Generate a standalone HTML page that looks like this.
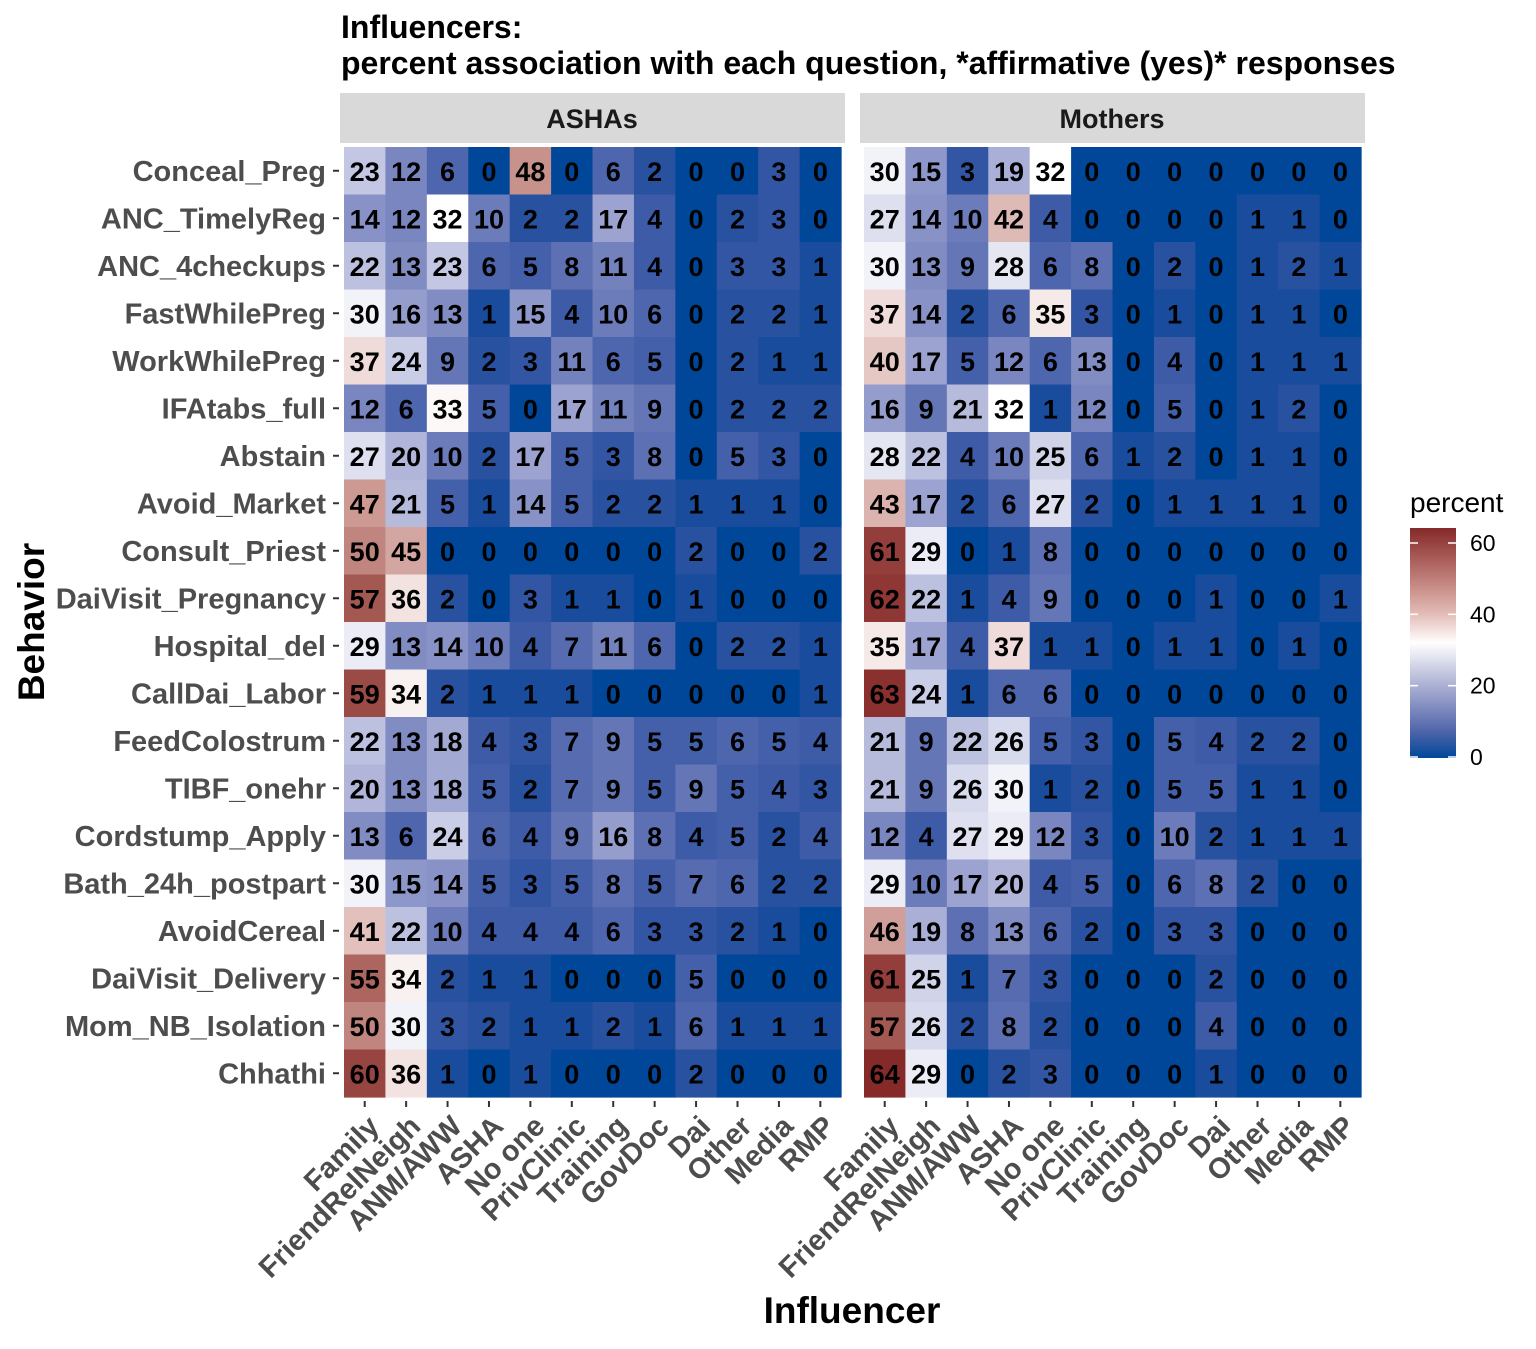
<!DOCTYPE html>
<html><head><meta charset="utf-8"><style>
body{margin:0;background:#fff}
svg text{font-family:"Liberation Sans",Arial,sans-serif;font-weight:bold}
</style></head><body>
<svg id="chart" width="1536" height="1344" xmlns="http://www.w3.org/2000/svg">
<text x="341" y="38" font-size="32" fill="#000">Influencers:</text>
<text x="341" y="74" font-size="32" fill="#000">percent association with each question, *affirmative (yes)* responses</text>
<rect x="340" y="93" width="505" height="50" fill="#d9d9d9"/>
<text x="592" y="128" font-size="27" text-anchor="middle" fill="#1a1a1a">ASHAs</text>
<rect x="860" y="93" width="505" height="50" fill="#d9d9d9"/>
<text x="1112" y="128" font-size="27" text-anchor="middle" fill="#1a1a1a">Mothers</text>
<g id="cells"></g>
<g id="axes"></g>
<text transform="translate(44,622) rotate(-90)" font-size="37" text-anchor="middle" fill="#000">Behavior</text>
<text x="852" y="1323" font-size="37" text-anchor="middle" fill="#000">Influencer</text>
<defs><linearGradient id="lg" x1="0" y1="1" x2="0" y2="0">
<stop offset="0" stop-color="#00479a"/><stop offset="0.125" stop-color="#5468ab"/><stop offset="0.25" stop-color="#8e97c6"/><stop offset="0.375" stop-color="#c6c9e1"/><stop offset="0.5" stop-color="#ffffff"/><stop offset="0.625" stop-color="#e3bdb8"/><stop offset="0.75" stop-color="#c68a84"/><stop offset="0.875" stop-color="#a75955"/><stop offset="1" stop-color="#842a2a"/></linearGradient></defs>
<text x="1410" y="512" font-size="28" style="font-weight:normal" fill="#000">percent</text>
<rect x="1410" y="528" width="46" height="230" fill="url(#lg)"/>
<g id="legend"></g>
</svg>
<script>
const behaviors=["Conceal_Preg","ANC_TimelyReg","ANC_4checkups","FastWhilePreg","WorkWhilePreg","IFAtabs_full","Abstain","Avoid_Market","Consult_Priest","DaiVisit_Pregnancy","Hospital_del","CallDai_Labor","FeedColostrum","TIBF_onehr","Cordstump_Apply","Bath_24h_postpart","AvoidCereal","DaiVisit_Delivery","Mom_NB_Isolation","Chhathi"];
const influencers=["Family","FriendRelNeigh","ANM/AWW","ASHA","No one","PrivClinic","Training","GovDoc","Dai","Other","Media","RMP"];
const ashaValues=[
[23,12,6,0,48,0,6,2,0,0,3,0],
[14,12,32,10,2,2,17,4,0,2,3,0],
[22,13,23,6,5,8,11,4,0,3,3,1],
[30,16,13,1,15,4,10,6,0,2,2,1],
[37,24,9,2,3,11,6,5,0,2,1,1],
[12,6,33,5,0,17,11,9,0,2,2,2],
[27,20,10,2,17,5,3,8,0,5,3,0],
[47,21,5,1,14,5,2,2,1,1,1,0],
[50,45,0,0,0,0,0,0,2,0,0,2],
[57,36,2,0,3,1,1,0,1,0,0,0],
[29,13,14,10,4,7,11,6,0,2,2,1],
[59,34,2,1,1,1,0,0,0,0,0,1],
[22,13,18,4,3,7,9,5,5,6,5,4],
[20,13,18,5,2,7,9,5,9,5,4,3],
[13,6,24,6,4,9,16,8,4,5,2,4],
[30,15,14,5,3,5,8,5,7,6,2,2],
[41,22,10,4,4,4,6,3,3,2,1,0],
[55,34,2,1,1,0,0,0,5,0,0,0],
[50,30,3,2,1,1,2,1,6,1,1,1],
[60,36,1,0,1,0,0,0,2,0,0,0]];
const motherValues=[
[30,15,3,19,32,0,0,0,0,0,0,0],
[27,14,10,42,4,0,0,0,0,1,1,0],
[30,13,9,28,6,8,0,2,0,1,2,1],
[37,14,2,6,35,3,0,1,0,1,1,0],
[40,17,5,12,6,13,0,4,0,1,1,1],
[16,9,21,32,1,12,0,5,0,1,2,0],
[28,22,4,10,25,6,1,2,0,1,1,0],
[43,17,2,6,27,2,0,1,1,1,1,0],
[61,29,0,1,8,0,0,0,0,0,0,0],
[62,22,1,4,9,0,0,0,1,0,0,1],
[35,17,4,37,1,1,0,1,1,0,1,0],
[63,24,1,6,6,0,0,0,0,0,0,0],
[21,9,22,26,5,3,0,5,4,2,2,0],
[21,9,26,30,1,2,0,5,5,1,1,0],
[12,4,27,29,12,3,0,10,2,1,1,1],
[29,10,17,20,4,5,0,6,8,2,0,0],
[46,19,8,13,6,2,0,3,3,0,0,0],
[61,25,1,7,3,0,0,0,2,0,0,0],
[57,26,2,8,2,0,0,0,4,0,0,0],
[64,29,0,2,3,0,0,0,1,0,0,0]];
const legendTicks=[0,20,40,60];

const NS="http://www.w3.org/2000/svg";
const cw=41.42, rh=47.5, top0=147, panelX=[344,864];
const midV=32, maxV=64.2;
function toLin(c){c/=255;return c<=0.04045?c/12.92:Math.pow((c+0.055)/1.055,2.4);}
function fromLin(c){c=c<=0.0031308?12.92*c:1.055*Math.pow(c,1/2.4)-0.055;return Math.max(0,Math.min(255,Math.round(c*255)));}
function rgb2lab(r,g,b){r=toLin(r);g=toLin(g);b=toLin(b);
  let x=(0.4124*r+0.3576*g+0.1805*b)/0.95047,y=0.2126*r+0.7152*g+0.0722*b,z=(0.0193*r+0.1192*g+0.9505*b)/1.08883;
  const f=t=>t>0.008856?Math.cbrt(t):7.787*t+16/116;
  return [116*f(y)-16,500*(f(x)-f(y)),200*(f(y)-f(z))];}
function lab2rgb(L,a,bb){const fy=(L+16)/116,fx=fy+a/500,fz=fy-bb/200;
  const fi=t=>t*t*t>0.008856?t*t*t:(t-16/116)/7.787;
  const x=fi(fx)*0.95047,y=fi(fy),z=fi(fz)*1.08883;
  return [fromLin(3.2406*x-1.5372*y-0.4986*z),fromLin(-0.9689*x+1.8758*y+0.0415*z),fromLin(0.0557*x-0.2040*y+1.0570*z)];}
const LO=rgb2lab(0,71,154), MID=rgb2lab(255,255,255), HI=rgb2lab(132,40,40);
function color(v){
  let a,b,t;
  if(v<=midV){a=LO;b=MID;t=v/midV;}else{a=MID;b=HI;t=Math.min(1,(v-midV)/(maxV-midV));}
  const c=lab2rgb(a[0]+(b[0]-a[0])*t,a[1]+(b[1]-a[1])*t,a[2]+(b[2]-a[2])*t);
  return `rgb(${c[0]},${c[1]},${c[2]})`;
}
function xPos(p,j){return panelX[p]+j*cw;}
function yPos(i){return top0+i*rh;}
function mk(tag,attrs,parent){const e=document.createElementNS(NS,tag);for(const k in attrs)e.setAttribute(k,attrs[k]);parent.appendChild(e);return e;}
const cells=document.getElementById('cells'), axes=document.getElementById('axes'), leg=document.getElementById('legend');
[ashaValues,motherValues].forEach((vals,p)=>{
  vals.forEach((row,i)=>row.forEach((v,j)=>{
    const r=mk('rect',{x:xPos(p,j),y:yPos(i),width:cw+0.6,height:rh+0.6,fill:color(v)},cells);
    
    
    const t=mk('text',{x:xPos(p,j)+cw/2,y:yPos(i)+rh/2+10,'font-size':27,'text-anchor':'middle',fill:'#000'},cells);
    t.textContent=v;
    
    
  }));
  influencers.forEach((name,j)=>{
    const cx=xPos(p,j)+cw/2;
    mk('line',{x1:cx,y1:1101,x2:cx,y2:1107,stroke:'#333','stroke-width':2},axes);
    const t=mk('text',{transform:`translate(${cx+16},${1128}) rotate(-45)`,'font-size':29,'text-anchor':'end',fill:'#4d4d4d'},axes);
    t.textContent=name;
    
    
  });
});
behaviors.forEach((name,i)=>{
  const cy=yPos(i)+rh/2;
  mk('line',{x1:333,y1:cy,x2:339,y2:cy,stroke:'#333','stroke-width':2},axes);
  const t=mk('text',{x:326,y:cy+10,'font-size':29,'text-anchor':'end',fill:'#4d4d4d'},axes);
  t.textContent=name;
  
  
});
legendTicks.forEach(v=>{
  const y=757-v*(214/60);
  mk('line',{x1:1410,y1:y,x2:1418,y2:y,stroke:'#fff','stroke-width':1.5},leg);
  mk('line',{x1:1448,y1:y,x2:1456,y2:y,stroke:'#fff','stroke-width':1.5},leg);
  const t=mk('text',{x:1470,y:y+8,'font-size':23,style:'font-weight:normal',fill:'#000'},leg);
  t.textContent=v;
  
  
});
</script>
</body></html>
